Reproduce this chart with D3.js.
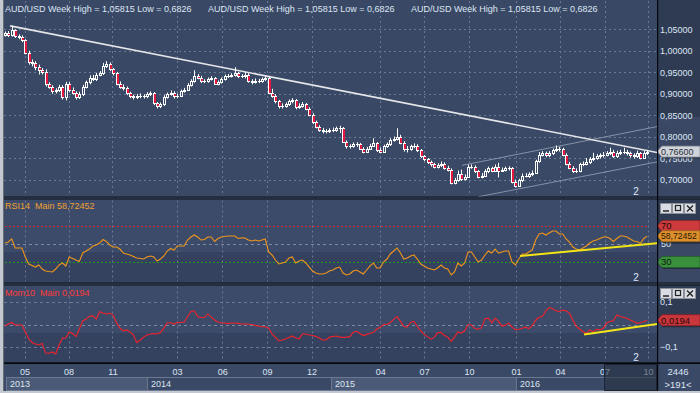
<!DOCTYPE html>
<html><head><meta charset="utf-8">
<script src="https://cdn.jsdelivr.net/npm/d3@7/dist/d3.min.js"></script>
<style>
html,body{margin:0;padding:0;overflow:hidden;background:#c4c9d1}
svg{display:block}
text{font-family:"Liberation Sans",Arial,sans-serif;white-space:pre}
</style></head><body>
<svg id="chart" width="700" height="393"></svg>
<script>
// ---------------- DATA ----------------
const symbol = "AUD/USD";
const period = "Week";
const firstOpen = 1.036;
const closes = [1.041,1.036,1.048,1.034,1.031,1.024,0.996,0.973,0.971,0.962,
0.955,0.950,0.922,0.917,0.906,0.908,0.917,0.892,0.924,0.910,
0.903,0.892,0.899,0.917,0.927,0.938,0.934,0.945,0.948,0.964,
0.969,0.957,0.948,0.924,0.917,0.913,0.901,0.894,0.892,0.894,
0.896,0.894,0.899,0.901,0.878,0.871,0.876,0.892,0.899,0.903,
0.894,0.896,0.906,0.910,0.920,0.929,0.941,0.938,0.929,0.929,
0.934,0.936,0.924,0.927,0.934,0.941,0.941,0.943,0.948,0.941,
0.941,0.945,0.929,0.927,0.931,0.929,0.934,0.936,0.903,0.896,
0.883,0.871,0.873,0.876,0.883,0.885,0.869,0.873,0.876,0.866,
0.852,0.834,0.824,0.817,0.813,0.813,0.815,0.817,0.820,0.820,
0.789,0.778,0.778,0.783,0.783,0.773,0.766,0.773,0.780,0.785,
0.769,0.766,0.778,0.783,0.792,0.796,0.801,0.787,0.771,0.773,
0.778,0.780,0.769,0.755,0.748,0.741,0.736,0.731,0.734,0.738,
0.729,0.724,0.694,0.699,0.715,0.703,0.708,0.731,0.731,0.720,
0.708,0.710,0.720,0.727,0.722,0.731,0.722,0.724,0.727,0.727,
0.696,0.687,0.699,0.710,0.710,0.713,0.717,0.743,0.759,0.762,
0.757,0.762,0.769,0.771,0.771,0.759,0.738,0.729,0.720,0.722,
0.736,0.738,0.741,0.748,0.752,0.755,0.757,0.759,0.762,0.766,
0.755,0.762,0.764,0.766,0.762,0.757,0.755,0.762,0.752,0.762,
0.766];
const highs = [1.045,1.046,1.05815,1.050,1.038,1.036,1.027,1.000,0.980,0.976,
0.968,0.960,0.957,0.927,0.920,0.913,0.921,0.920,0.928,0.927,
0.915,0.906,0.905,0.921,0.931,0.943,0.944,0.949,0.953,0.972,
0.976,0.973,0.960,0.951,0.929,0.922,0.917,0.905,0.898,0.900,
0.901,0.899,0.904,0.906,0.904,0.881,0.880,0.897,0.903,0.908,
0.906,0.901,0.910,0.914,0.925,0.934,0.955,0.946,0.942,0.934,
0.938,0.941,0.939,0.931,0.938,0.945,0.946,0.948,0.962,0.951,
0.946,0.950,0.948,0.934,0.936,0.935,0.938,0.941,0.940,0.912,
0.899,0.886,0.878,0.880,0.887,0.890,0.888,0.878,0.881,0.879,
0.869,0.855,0.838,0.827,0.821,0.818,0.820,0.822,0.824,0.826,
0.823,0.792,0.783,0.787,0.788,0.786,0.776,0.777,0.784,0.797,
0.788,0.775,0.782,0.787,0.797,0.801,0.820,0.805,0.790,0.779,
0.782,0.785,0.783,0.772,0.758,0.751,0.745,0.740,0.739,0.743,
0.741,0.733,0.727,0.705,0.722,0.724,0.713,0.736,0.736,0.734,
0.723,0.716,0.725,0.731,0.731,0.736,0.740,0.729,0.731,0.732,
0.730,0.701,0.703,0.715,0.716,0.718,0.722,0.747,0.765,0.767,
0.766,0.767,0.773,0.780,0.777,0.775,0.762,0.742,0.732,0.727,
0.740,0.743,0.751,0.753,0.763,0.760,0.762,0.765,0.767,0.775,
0.770,0.768,0.770,0.775,0.770,0.766,0.762,0.768,0.765,0.767,
0.770];
const lows = [1.033,1.032,1.033,1.030,1.027,1.020,0.992,0.968,0.964,0.955,
0.945,0.945,0.917,0.912,0.900,0.901,0.904,0.887,0.885,0.905,
0.898,0.887,0.888,0.895,0.913,0.922,0.930,0.930,0.941,0.944,
0.960,0.953,0.943,0.920,0.912,0.908,0.897,0.890,0.887,0.888,
0.890,0.889,0.890,0.895,0.874,0.866,0.867,0.872,0.889,0.896,
0.889,0.890,0.893,0.903,0.907,0.917,0.926,0.934,0.925,0.925,
0.926,0.931,0.921,0.920,0.924,0.931,0.937,0.938,0.940,0.937,
0.937,0.936,0.926,0.922,0.924,0.925,0.926,0.930,0.900,0.891,
0.878,0.866,0.866,0.868,0.872,0.878,0.864,0.865,0.868,0.862,
0.848,0.830,0.820,0.812,0.808,0.808,0.809,0.811,0.812,0.809,
0.786,0.773,0.773,0.775,0.777,0.770,0.762,0.763,0.770,0.777,
0.765,0.762,0.763,0.775,0.779,0.789,0.792,0.783,0.766,0.764,
0.768,0.774,0.765,0.751,0.744,0.737,0.731,0.727,0.727,0.730,
0.724,0.720,0.690,0.690,0.696,0.698,0.699,0.705,0.726,0.716,
0.704,0.704,0.707,0.716,0.718,0.719,0.706,0.719,0.720,0.722,
0.692,0.6826,0.685,0.695,0.706,0.705,0.709,0.714,0.740,0.755,
0.753,0.753,0.758,0.765,0.766,0.755,0.734,0.725,0.716,0.716,
0.718,0.732,0.734,0.737,0.744,0.747,0.750,0.752,0.755,0.758,
0.751,0.751,0.758,0.760,0.757,0.752,0.750,0.751,0.748,0.749,
0.758];
const rsi14 = [51.1,52.2,55.6,45.6,45.6,45.6,35.6,27.8,26.1,24.4,
26.7,22.2,20.0,19.4,18.9,22.2,26.7,28.9,25.6,35.6,
33.9,32.2,30.6,40.0,42.2,44.4,47.8,48.9,51.1,55.0,
52.8,48.9,46.7,46.7,44.4,40.0,38.9,37.8,36.1,34.4,
33.9,33.3,35.6,36.7,35.6,31.1,33.3,36.7,42.2,45.0,
43.3,47.8,47.8,47.8,54.4,57.8,60.0,57.8,54.4,55.0,
57.8,57.8,52.8,56.1,57.8,58.3,58.9,58.9,58.9,56.1,
57.0,56.7,54.4,53.3,54.4,53.3,54.4,55.6,41.1,37.8,
32.2,27.8,28.9,30.0,34.4,35.6,28.9,31.1,32.2,28.9,
24.4,20.0,17.8,16.7,16.7,17.8,20.0,21.1,23.3,24.4,
17.8,15.6,16.7,20.0,21.1,18.9,16.7,21.1,25.6,28.9,
23.3,23.3,30.0,33.3,38.9,42.2,45.6,40.0,33.3,34.4,
36.7,37.8,33.3,27.8,25.6,23.3,22.2,21.1,23.3,26.7,
23.3,22.2,15.6,18.9,28.9,25.6,28.9,41.1,41.1,35.6,
30.0,32.2,37.8,42.2,40.0,44.4,40.0,41.1,42.2,42.2,
30.0,26.7,33.3,38.9,38.9,41.1,43.3,54.4,61.1,62.2,
60.0,62.2,64.4,64.4,61.1,61.1,55.6,52.2,46.7,44.4,
43.3,45.6,47.8,51.1,53.3,54.4,56.1,57.8,57.8,56.1,
52.8,56.1,58.9,58.9,57.8,55.6,53.3,52.8,50.6,56.1,
58.72452];
const mom10 = [-0.007,0.002,0.009,-0.002,-0.002,-0.002,-0.032,-0.064,-0.080,-0.087,
-0.091,-0.084,-0.127,-0.128,-0.122,-0.131,-0.091,-0.060,-0.060,-0.033,
-0.040,-0.054,-0.020,0.016,0.024,0.036,0.038,0.024,0.057,0.051,
0.047,0.050,0.042,0.007,-0.016,-0.028,-0.024,-0.033,-0.047,-0.081,
-0.069,-0.056,-0.047,-0.042,-0.040,-0.042,-0.036,-0.016,0.008,0.008,
0.002,0.009,0.010,0.010,0.033,0.058,0.060,0.035,0.031,0.031,
0.047,0.033,0.020,0.011,0.007,0.007,0.004,0.007,0.007,0.005,
0.002,0.002,0.001,0.000,-0.004,-0.007,-0.010,-0.010,-0.016,-0.042,
-0.056,-0.073,-0.069,-0.064,-0.058,-0.051,-0.060,-0.064,-0.042,-0.042,
-0.047,-0.049,-0.053,-0.060,-0.069,-0.069,-0.056,-0.053,-0.051,-0.056,
-0.057,-0.056,-0.054,-0.034,-0.030,-0.040,-0.049,-0.044,-0.040,-0.035,
-0.020,-0.012,0.000,0.000,0.009,0.023,0.035,0.014,-0.009,-0.012,
0.009,0.014,-0.009,-0.028,-0.044,-0.055,-0.065,-0.056,-0.037,-0.035,
-0.049,-0.056,-0.075,-0.056,-0.033,-0.038,-0.028,0.000,-0.003,-0.018,
-0.021,-0.014,0.026,0.028,0.007,0.028,0.014,-0.007,-0.004,0.007,
-0.012,-0.023,-0.021,-0.017,-0.012,-0.018,-0.005,0.019,0.032,0.035,
0.061,0.075,0.070,0.061,0.058,0.064,0.061,0.051,0.020,-0.007,
-0.020,-0.032,-0.039,-0.024,-0.032,-0.021,-0.024,-0.017,0.007,0.013,
0.017,0.042,0.036,0.031,0.028,0.020,0.013,0.005,0.008,0.013,
0.0194];
const priceTicks = [0.70,0.75,0.80,0.85,0.90,0.95,1.00,1.05];
const rsiLevels = [70,50,30];
const momTicks = [0.1,-0.1];
const monthLabels = ["05","08","11","03","06","09","12","04","07","10","01","04","07","10"];
const monthBars   = [5.8,18.8,31.8,50.9,64.3,77.5,90.7,111,124,137.3,151.2,164.2,177.4,190.2];
const yearLabels = ["2013","2014","2015","2016"];
const yearBars   = [-0.3,42,96.4,151.2];
// drawn trend lines (bar index, value)
const trendMain  = [[1.5,1.058],[192.9,0.764]];
const chanUpper  = [[135.2,0.734],[192.9,0.824]];
const chanLower  = [[140,0.661],[192.9,0.742]];
const trendRsi   = [[152.4,36.7],[192.9,50.8]];
const trendMom   = [[171.3,-0.044],[192.9,0.002]];
const totalBars = 2446;

// ---------------- LAYOUT ----------------
const svg = d3.select("#chart");
const PL = 4, PR = 657, W = 700;
const MAIN = {t:0, b:196.5}, RSI = {t:199.5, b:282.5}, MOM = {t:285.5, b:362.5}, AX = {t:364, b:391};
const BG2 = "#344260", BGR = "#2f3b53", BGR2 = "#3a4865";
const loc = d3.formatLocale({decimal:",", thousands:".", grouping:[3], currency:["",""]});
const f5 = loc.format(".5f"), f4 = loc.format(".4f"), f1 = loc.format(".1f");

const x = d3.scaleLinear().domain([0, closes.length-1]).range([5, 647.2]);
const yP = d3.scaleLinear().domain([0.70,1.05]).range([180,29.3]);
const yR = d3.scaleLinear().domain([30,70]).range([262,226]);
const yM = d3.scaleLinear().domain([-0.1,0.1]).range([347,302]);

// frame
svg.append("rect").attr("width",700).attr("height",393).attr("fill","#c4c9d1");
svg.append("rect").attr("x",3.5).attr("y",0).attr("width",W-3.5).attr("height",391).attr("fill","#0d131c");

function panel(p, split, topC, botC, rTop, rBot, rsplit){
  svg.append("rect").attr("x",PL).attr("y",p.t).attr("width",PR-PL).attr("height",split-p.t).attr("fill",topC);
  svg.append("rect").attr("x",PL).attr("y",split).attr("width",PR-PL).attr("height",p.b-split).attr("fill",botC);
  svg.append("rect").attr("x",PR+1).attr("y",p.t).attr("width",W-PR-1).attr("height",rsplit-p.t).attr("fill",rTop);
  svg.append("rect").attr("x",PR+1).attr("y",rsplit).attr("width",W-PR-1).attr("height",p.b-rsplit).attr("fill",rBot);
}
panel(MAIN, 117, "#394865", "#3a4966", BGR, BGR2, 117);
panel(RSI, 252, "#3c4b69", BG2, BGR, BGR2, 244);
panel(MOM, 333, "#3c4b69", BG2, BGR, BGR2, 320);
panel(AX, 377, "#3a4966", "#3a4966", "#3a4966", "#3a4966", 377);
[198, 284].forEach(yy=>svg.append("rect").attr("x",PL).attr("y",yy-0.4).attr("width",W-PL).attr("height",0.8).attr("fill","#4d5870"));
const defs = svg.append("defs");
[["cMain",MAIN],["cRsi",RSI],["cMom",MOM]].forEach(([id,p])=>{
  defs.append("clipPath").attr("id",id).append("rect").attr("x",PL).attr("y",p.t).attr("width",PR-PL).attr("height",p.b-p.t);
});

const gridC = "#6b7994";
[MAIN,RSI,MOM].forEach(p=>{
  svg.append("g").selectAll("line").data(monthBars).join("line")
    .attr("x1",d=>Math.round(x(d))+0.5).attr("x2",d=>Math.round(x(d))+0.5)
    .attr("y1",p.t+1).attr("y2",p.b-1)
    .attr("stroke",gridC).attr("stroke-width",1).attr("stroke-dasharray","2,3");
});
svg.append("g").selectAll("line").data(priceTicks).join("line")
  .attr("x1",PL).attr("x2",PR).attr("y1",d=>Math.round(yP(d))+0.5).attr("y2",d=>Math.round(yP(d))+0.5)
  .attr("stroke",gridC).attr("stroke-dasharray","2,3");
const lvlColor = {70:"#e0252a",50:"#7d8aa4",30:"#1f9a22"};
svg.append("g").selectAll("line").data(rsiLevels).join("line")
  .attr("x1",x(0)).attr("x2",x(closes.length-1))
  .attr("y1",d=>Math.round(yR(d))+0.5).attr("y2",d=>Math.round(yR(d))+0.5)
  .attr("stroke",d=>lvlColor[d]).attr("stroke-dasharray",d=>d===50?"3,3":"2,2");
svg.append("g").selectAll("line").data([0.1,0,-0.1]).join("line")
  .attr("x1",PL).attr("x2",PR)
  .attr("y1",d=>Math.round(yM(d))+0.5).attr("y2",d=>Math.round(yM(d))+0.5)
  .attr("stroke",d=>d===0?"#7d8aa4":gridC).attr("stroke-dasharray","3,3");

// ---------------- CANDLES ----------------
const gC = svg.append("g").attr("clip-path","url(#cMain)");
const bars = closes.map((c,i)=>({i, o: i===0?firstOpen:closes[i-1], c, h:highs[i], l:lows[i]}));
const lineGen = d3.line().x(d=>x(d[0]));
gC.append("path").datum(chanUpper).attr("d",lineGen.y(d=>yP(d[1]))).attr("stroke","#8592a8").attr("stroke-width",1).attr("fill","none");
gC.append("path").datum(chanLower).attr("d",lineGen.y(d=>yP(d[1]))).attr("stroke","#8592a8").attr("stroke-width",1).attr("fill","none");
gC.append("path").datum(trendMain).attr("d",lineGen.y(d=>yP(d[1]))).attr("stroke","#e4e6ea").attr("stroke-width",1.6).attr("fill","none");

const cg = gC.selectAll("g.bar").data(bars).join("g").attr("class","bar");
cg.append("line")
  .attr("x1",d=>Math.round(x(d.i))+0.5).attr("x2",d=>Math.round(x(d.i))+0.5)
  .attr("y1",d=>yP(d.h)).attr("y2",d=>yP(d.l)).attr("stroke","#ffffff").attr("stroke-width",1);
cg.append("rect")
  .attr("x",d=>Math.round(x(d.i))-1)
  .attr("y",d=>Math.round(yP(Math.max(d.o,d.c))))
  .attr("width",3)
  .attr("height",d=>Math.max(1,Math.round(yP(Math.min(d.o,d.c)))-Math.round(yP(Math.max(d.o,d.c)))+1))
  .attr("fill","#ffffff");
cg.filter(d=>Math.round(yP(Math.min(d.o,d.c)))-Math.round(yP(Math.max(d.o,d.c)))>=2).append("rect")
  .attr("x",d=>Math.round(x(d.i)))
  .attr("y",d=>Math.round(yP(Math.max(d.o,d.c)))+1)
  .attr("width",d=>d.c<d.o?2:1)
  .attr("height",d=>Math.round(yP(Math.min(d.o,d.c)))-Math.round(yP(Math.max(d.o,d.c)))-1)
  .attr("fill",d=>d.c<d.o?"#e3173d":"#3a4966");

// ---------------- RSI / MOM ----------------
const gR = svg.append("g").attr("clip-path","url(#cRsi)");
gR.append("path").datum(rsi14).attr("d",d3.line().x((d,i)=>x(i)).y(d=>yR(d))).attr("fill","none").attr("stroke","#ef951c").attr("stroke-width",1.1);
gR.append("path").datum(trendRsi).attr("d",d3.line().x(d=>x(d[0])).y(d=>yR(d[1]))).attr("stroke","#f2e616").attr("stroke-width",2).attr("fill","none");
const gM = svg.append("g").attr("clip-path","url(#cMom)");
gM.append("path").datum(mom10).attr("d",d3.line().x((d,i)=>x(i)).y(d=>yM(d))).attr("fill","none").attr("stroke","#f5212b").attr("stroke-width",1.1);
gM.append("path").datum(trendMom).attr("d",d3.line().x(d=>x(d[0])).y(d=>yM(d[1]))).attr("stroke","#f2e616").attr("stroke-width",2).attr("fill","none");

// ---------------- TEXT ----------------
const txtC = "#dde6f3";
const header = `${symbol} ${period} High = ${f5(d3.max(highs))} Low = ${f4(d3.min(lows))}`;
[5,208,411].forEach(xx=>svg.append("text").attr("x",xx).attr("y",11.5).attr("font-size",9).attr("fill",txtC).text(header));
svg.append("text").attr("x",5).attr("y",209).attr("font-size",9).attr("fill","#f0a030")
  .text(`RSI14  Main ${f5(rsi14[rsi14.length-1])}`);
svg.append("text").attr("x",5).attr("y",296).attr("font-size",9).attr("fill","#ff3a3a")
  .text(`Mom10  Main ${f4(mom10[mom10.length-1])}`);
[[MAIN,191],[RSI,277],[MOM,357]].forEach(([p,yy])=>svg.append("text").attr("x",636).attr("y",yy).attr("dy","0.35em").attr("text-anchor","middle").attr("font-size",10).attr("fill",txtC).text("2"));

function styleAxis(g){ g.select(".domain").remove(); g.selectAll("line").remove(); g.selectAll("text").attr("fill",txtC).attr("font-size",9).attr("font-family","Liberation Sans, Arial, sans-serif"); }
svg.append("g").attr("transform",`translate(${PR},0)`).call(d3.axisRight(yP).tickValues(priceTicks).tickFormat(f5).tickSize(0).tickPadding(3)).call(styleAxis);
svg.append("g").attr("transform",`translate(${PR},0)`).call(d3.axisRight(yR).tickValues([50]).tickFormat(d=>d).tickSize(0).tickPadding(4)).call(styleAxis);
svg.append("g").attr("transform",`translate(${PR},0)`).call(d3.axisRight(yM).tickValues(momTicks).tickFormat(f1).tickSize(0).tickPadding(3)).call(styleAxis);

function tag(y, label, fill, stroke, tc, fs){
  const g = svg.append("g");
  const h = 5.5;
  g.append("path").attr("d",`M657,${y} L662,${y-h} L700,${y-h} L700,${y+h} L662,${y+h}Z`).attr("transform","translate(1,1.5)").attr("fill","rgba(20,25,35,0.55)");
  g.append("path").attr("d",`M657,${y} L662,${y-h} L700,${y-h} L700,${y+h} L662,${y+h}Z`).attr("fill",fill).attr("stroke",stroke).attr("stroke-width",0.8);
  g.append("text").attr("x",661).attr("y",y).attr("dy","0.36em").attr("font-size",fs||9.5).attr("fill",tc).text(label);
}
tag(yP(closes[closes.length-1]), f5(closes[closes.length-1]), "#cfd3da", "#7d838e", "#2a2e36", 9);
tag(yR(70), "70", "#cc3a3c", "#8a2224", "#2a0a0a");
tag(yR(rsi14[rsi14.length-1]), f5(rsi14[rsi14.length-1]), "#dd8f2b", "#94601c", "#2a1a05", 8.6);
tag(yR(30), "30", "#3a8f3c", "#23602a", "#0a200a");
tag(yM(mom10[mom10.length-1]), f4(mom10[mom10.length-1]), "#c9363b", "#8a2024", "#2a0a0a");

function buttons(y){
  const g = svg.append("g");
  [660,672,684].forEach((bx,k)=>{
    g.append("rect").attr("x",bx+0.5).attr("y",y+0.5).attr("width",11).attr("height",10).attr("fill","#d9dde3").attr("stroke","#8b9099");
    if(k===0) g.append("line").attr("x1",bx+3).attr("x2",bx+9).attr("y1",y+8).attr("y2",y+8).attr("stroke","#222").attr("stroke-width",1.5);
    if(k===1) g.append("rect").attr("x",bx+3.5).attr("y",y+2.5).attr("width",5).attr("height",5).attr("fill","none").attr("stroke","#222").attr("stroke-width",1.2);
    if(k===2){ g.append("path").attr("d",`M${bx+3},${y+2.5} L${bx+9},${y+8.5} M${bx+9},${y+2.5} L${bx+3},${y+8.5}`).attr("stroke","#222").attr("stroke-width",1.3); }
  });
}
buttons(203); buttons(288);

// ---------------- TIME AXIS ----------------
const yEnd = [...yearBars.slice(1), 192.9];
yearLabels.forEach((lab,k)=>{
  const x0 = k===0 ? 5.5 : x(yearBars[k]), x1 = k===yearLabels.length-1 ? PR : x(yEnd[k]);
  svg.append("rect").attr("x",Math.round(x0)+0.5).attr("y",377.5).attr("width",Math.round(x1)-Math.round(x0)).attr("height",13)
    .attr("fill", k%2===0 ? "#4b5a76" : "#3a4966").attr("stroke","#6b7891").attr("stroke-width",1);
  svg.append("text").attr("x",Math.round(x0)+4).attr("y",387).attr("font-size",9).attr("fill",txtC).text(lab);
});
svg.append("g").attr("transform","translate(0,365.5)")
  .call(d3.axisBottom(x).tickValues(monthBars).tickFormat((d,i)=>monthLabels[i]).tickSize(0).tickPadding(3))
  .call(styleAxis);
svg.append("rect").attr("x",Math.round(x(177.2))+0.5).attr("y",364.5).attr("width",PR-Math.round(x(177.2))-1).attr("height",26)
  .attr("fill","rgba(35,45,62,0.55)").attr("stroke","#1c2433").attr("stroke-width",1);
svg.append("text").attr("x",678).attr("y",375).attr("text-anchor","middle").attr("font-size",9.5).attr("fill",txtC).text(totalBars);
svg.append("text").attr("x",678).attr("y",388).attr("text-anchor","middle").attr("font-size",9.5).attr("fill",txtC).text(`>${closes.length}<`);

svg.append("rect").attr("x",PR).attr("y",0).attr("width",1.2).attr("height",391).attr("fill","#05080c");
svg.append("rect").attr("x",PL).attr("y",362.5).attr("width",W-PL).attr("height",1.5).attr("fill","#05080c");
svg.append("rect").attr("x",0).attr("y",391).attr("width",700).attr("height",2).attr("fill","#c4c9d1");
</script>
</body></html>
